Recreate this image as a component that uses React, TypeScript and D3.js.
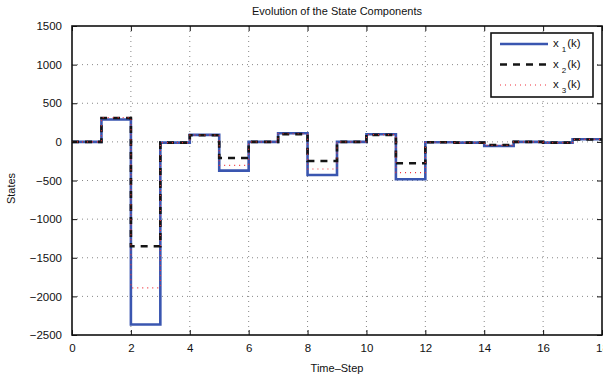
import { useEffect, useRef } from "react"
import * as d3 from "d3"

// time steps k = 0..17 (each value held until k+1)
const steps = [0, 1, 2, 3, 4, 5, 6, 7, 8, 9, 10, 11, 12, 13, 14, 15, 16, 17]
const x1 = [0, 290, -2365, -10, 90, -372, 0, 111, -428, 0, 98, -484, -5, -10, -53, 0, -10, 34]
const x2 = [0, 310, -1352, -10, 85, -208, 0, 100, -247, 0, 90, -277, -5, -10, -40, 0, -10, 30]
const x3 = [0, 315, -1891, -10, 88, -303, 0, 105, -351, 0, 94, -398, -5, -10, -46, 0, -10, 32]
const seriesNames = ["x", "x", "x"]
const seriesSubs = ["1", "2", "3"]
const xTicks = [0, 2, 4, 6, 8, 10, 12, 14, 16, 18]
const yTicks = [-2500, -2000, -1500, -1000, -500, 0, 500, 1000, 1500]

export default function App() {
  const svgRef = useRef<SVGSVGElement>(null)

  useEffect(() => {
    if (!svgRef.current) return
    const svg = d3.select(svgRef.current)
    svg.selectAll("*").remove()

    const margin = { top: 26, right: 1, bottom: 45, left: 72 }
    const W = 603
    const H = 380
    const width = W - margin.left - margin.right
    const height = H - margin.top - margin.bottom
    const font = "Liberation Sans, Arial, sans-serif"

    const x = d3.scaleLinear().domain([0, 18]).range([0, width])
    const y = d3.scaleLinear().domain([-2500, 1500]).range([height, 0])

    const g = svg.append("g").attr("transform", `translate(${margin.left},${margin.top})`)

    // grid
    g.selectAll(".gx")
      .data(xTicks.slice(1, -1))
      .enter()
      .append("line")
      .attr("x1", (d) => x(d))
      .attr("x2", (d) => x(d))
      .attr("y1", 0)
      .attr("y2", height)
      .attr("stroke", "#555")
      .attr("stroke-width", 0.7)
      .attr("stroke-dasharray", "1,4")
    g.selectAll(".gy")
      .data(yTicks.slice(1, -1))
      .enter()
      .append("line")
      .attr("x1", 0)
      .attr("x2", width)
      .attr("y1", (d) => y(d))
      .attr("y2", (d) => y(d))
      .attr("stroke", "#555")
      .attr("stroke-width", 0.7)
      .attr("stroke-dasharray", "1,4")

    // series
    const line = d3
      .line<number>()
      .x((_, i) => x(i < steps.length ? steps[i] : 18))
      .y((d) => y(d))
      .curve(d3.curveStepAfter)

    const withEnd = (vals: number[]) => [...vals, vals[vals.length - 1]]

    const styles = [
      { color: "#3a56b0", width: 2.6, dash: null as string | null },
      { color: "#151515", width: 2.6, dash: "7,6" },
      { color: "#f0303a", width: 1.2, dash: "1,4" },
    ]
    const data = [x1, x2, x3]

    data.forEach((vals, i) => {
      g.append("path")
        .attr("d", line(withEnd(vals)))
        .attr("fill", "none")
        .attr("stroke", styles[i].color)
        .attr("stroke-width", styles[i].width)
        .attr("stroke-dasharray", styles[i].dash)
    })

    // axes (MATLAB style box with inner ticks)
    const axB = g.append("g").attr("transform", `translate(0,${height})`)
      .call(d3.axisBottom(x).tickValues(xTicks).tickSizeInner(-5).tickSizeOuter(0).tickPadding(9))
    const axT = g.append("g").call(d3.axisTop(x).tickValues(xTicks).tickSizeInner(-5).tickSizeOuter(0).tickFormat(() => ""))
    const axL = g.append("g")
      .call(d3.axisLeft(y).tickValues(yTicks).tickSizeInner(-5).tickSizeOuter(0).tickPadding(10).tickFormat((d) => d3.format("")(d as number).replace("-", "\u2212")))
    const axR = g.append("g").attr("transform", `translate(${width},0)`)
      .call(d3.axisRight(y).tickValues(yTicks).tickSizeInner(-5).tickSizeOuter(0).tickFormat(() => ""))

    ;[axB, axT, axL, axR].forEach((a) => {
      a.select(".domain").remove()
      a.selectAll("line").attr("stroke", "#111").attr("stroke-width", 1)
      a.selectAll("text").attr("font-family", font).attr("font-size", 11.5).attr("fill", "#111")
    })

    g.append("rect")
      .attr("x", 0)
      .attr("y", 0)
      .attr("width", width)
      .attr("height", height)
      .attr("fill", "none")
      .attr("stroke", "#111")
      .attr("stroke-width", 1.6)

    // title and labels
    svg.append("text")
      .attr("x", margin.left + width / 2)
      .attr("y", 15)
      .attr("text-anchor", "middle")
      .attr("font-family", font)
      .attr("font-size", 11)
      .attr("fill", "#111")
      .text("Evolution of the State Components")

    svg.append("text")
      .attr("x", margin.left + width / 2)
      .attr("y", 372)
      .attr("text-anchor", "middle")
      .attr("font-family", font)
      .attr("font-size", 11)
      .attr("fill", "#111")
      .text("Time\u2013Step")

    svg.append("text")
      .attr("transform", `translate(15,${margin.top + height / 2 + 8}) rotate(-90)`)
      .attr("text-anchor", "middle")
      .attr("font-family", font)
      .attr("font-size", 11)
      .attr("fill", "#111")
      .text("States")

    // legend
    const lg = svg.append("g").attr("transform", "translate(491,33)")
    lg.append("rect")
      .attr("width", 102)
      .attr("height", 64)
      .attr("fill", "white")
      .attr("stroke", "#111")
      .attr("stroke-width", 1.6)
    seriesNames.forEach((name, i) => {
      const ly = 11 + i * 20.5
      lg.append("line")
        .attr("x1", 9)
        .attr("x2", 57)
        .attr("y1", ly)
        .attr("y2", ly)
        .attr("stroke", styles[i].color)
        .attr("stroke-width", styles[i].width)
        .attr("stroke-dasharray", styles[i].dash)
      const t = lg.append("text")
        .attr("x", 62)
        .attr("y", ly + 3)
        .attr("font-family", font)
        .attr("font-size", 11.5)
        .attr("fill", "#111")
      t.append("tspan").text(name)
      t.append("tspan").attr("dy", 5).attr("dx", 3).attr("font-size", 8).text(seriesSubs[i])
      t.append("tspan").attr("dy", -5).attr("dx", 1).text("(k)")
    })
  }, [])

  return (
    <svg
      ref={svgRef}
      width={603}
      height={380}
      style={{ position: "absolute", left: 0, top: 0, background: "white" }}
    />
  )
}
